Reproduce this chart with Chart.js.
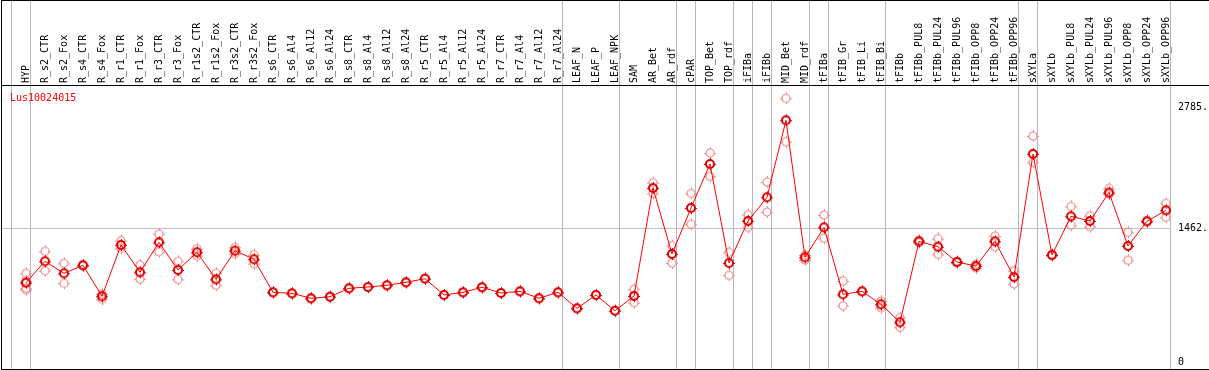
<!DOCTYPE html>
<html>
<head>
<meta charset="utf-8">
<script src="https://cdn.jsdelivr.net/npm/chart.js@4"></script>
<style>
  body { margin: 0; background: #fff; }
  #wrap { position: absolute; left: 1px; top: 0; width: 1207px; height: 368px;
          border-left: 1px solid #000; border-top: 1px solid #000; border-bottom: 1px solid #000; }
  #sep { position: absolute; left: 0; top: 84px; width: 1207px; height: 1px; background: #000; }
</style>
</head>
<body>
<div id="wrap">
  <canvas id="chart" width="1207" height="368"></canvas>
  <div id="sep"></div>
</div>
<script>
const categories = ["HYP", "R_s2_CTR", "R_s2_Fox", "R_s4_CTR", "R_s4_Fox", "R_r1_CTR", "R_r1_Fox",
  "R_r3_CTR", "R_r3_Fox", "R_r1s2_CTR", "R_r1s2_Fox", "R_r3s2_CTR", "R_r3s2_Fox",
  "R_s6_CTR", "R_s6_Al4", "R_s6_Al12", "R_s6_Al24", "R_s8_CTR", "R_s8_Al4", "R_s8_Al12", "R_s8_Al24",
  "R_r5_CTR", "R_r5_Al4", "R_r5_Al12", "R_r5_Al24", "R_r7_CTR", "R_r7_Al4", "R_r7_Al12", "R_r7_Al24",
  "LEAF_N", "LEAF_P", "LEAF_NPK", "SAM", "AR_Bet", "AR_rdf", "cPAR", "TOP_Bet", "TOP_rdf",
  "iFIBa", "iFIBb", "MID_Bet", "MID_rdf", "tFIBa", "tFIB_Gr", "tFIB_Li", "tFIB_Bi",
  "tFIBb", "tFIBb_PUL8", "tFIBb_PUL24", "tFIBb_PUL96", "tFIBb_OPP8", "tFIBb_OPP24", "tFIBb_OPP96",
  "sXYLa", "sXYLb", "sXYLb_PUL8", "sXYLb_PUL24", "sXYLb_PUL96", "sXYLb_OPP8", "sXYLb_OPP24", "sXYLb_OPP96"];

const meanValues = [866, 1100, 969, 1056, 718, 1278, 980, 1307, 1005, 1198, 903, 1216, 1122,
  761, 750, 696, 713, 805, 819, 838, 870, 910, 732, 761, 816, 754, 772, 696, 761,
  586, 732, 560, 721, 1900, 1180, 1682, 2162, 1081, 1540, 1799, 2640, 1143,
  1471, 739, 772, 630, 434, 1318, 1259, 1092, 1048, 1318, 928,
  2272, 1169, 1591, 1540, 1851, 1267, 1537, 1657];

const replicates = [[969, 885, 805, 790], [1209, 997], [1078, 860], [1062, 1050], [685, 743],
  [1325, 1242], [1059, 906], [1398, 1205], [1100, 903], [1237, 1161], [969, 838], [1253, 1183], [1172, 1074],
  [761, 761], [750, 750], [696, 696], [713, 713], [805, 805], [819, 819], [838, 838], [870, 870],
  [910, 910], [732, 732], [761, 761], [816, 816], [754, 754], [772, 772], [696, 696], [761, 761],
  [586, 586], [732, 732], [560, 560], [794, 648], [1958, 1842], [1270, 1081], [1842, 1504],
  [2283, 2028], [1198, 947], [1609, 1471], [1966, 1638], [2880, 2406], [1169, 1114],
  [1605, 1351], [885, 615], [772, 772], [593, 666], [484, 379], [1332, 1305], [1347, 1176],
  [1100, 1085], [1070, 1027], [1376, 1259], [997, 852], [2468, 2181], [1175, 1163],
  [1700, 1493], [1598, 1478], [1897, 1835], [1417, 1111], [1545, 1530], [1733, 1580]];

// index of the last category in each group (-1 = before the first)
const groupLast = [-1, 0, 28, 31, 34, 35, 37, 38, 39, 41, 42, 45, 52, 53, 60];
const yTicks = [0, 1462, 2785];
const geneName = "Lus10024015";

function makeMarker(color, width) {
  const c = document.createElement("canvas");
  c.width = 14; c.height = 14;
  const g = c.getContext("2d");
  g.strokeStyle = color;
  g.lineWidth = width;
  g.beginPath();
  g.arc(7, 7, 4, 0, Math.PI * 2);
  g.stroke();
  g.lineWidth = 1;
  g.beginPath();
  g.moveTo(7.5, 1); g.lineTo(7.5, 3);
  g.moveTo(7.5, 11); g.lineTo(7.5, 13);
  g.moveTo(1, 7.5); g.lineTo(3, 7.5);
  g.moveTo(11, 7.5); g.lineTo(13, 7.5);
  g.stroke();
  return c;
}

const meanPoints = meanValues.map((v, i) => ({ x: i, y: v }));
const repPoints = [];
replicates.forEach((reps, i) => reps.forEach(v => repPoints.push({ x: i, y: v })));

Chart.defaults.font.family = "DejaVu Sans Mono";
Chart.defaults.font.size = 10;
Chart.defaults.color = "#000";

const xMin = -24 / 19;
const xMax = xMin + 1169 / 19;

function noPad(s) {
  s.paddingLeft = 0; s.paddingRight = 0; s.paddingTop = 0; s.paddingBottom = 0;
}

const namePlugin = {
  id: "geneName",
  afterDraw(chart) {
    const ctx = chart.ctx;
    ctx.save();
    ctx.font = "10px 'DejaVu Sans Mono'";
    ctx.fillStyle = "#ff0000";
    ctx.textBaseline = "alphabetic";
    ctx.fillText(geneName, chart.chartArea.left + 8, chart.chartArea.top + 16);
    ctx.restore();
  }
};

new Chart(document.getElementById("chart"), {
  type: "line",
  data: {
    datasets: [
      {
        data: meanPoints,
        borderColor: "#ff0000",
        borderWidth: 1,
        tension: 0,
        pointStyle: makeMarker("#e00000", 2),
        order: 1
      },
      {
        type: "scatter",
        data: repPoints,
        showLine: false,
        pointStyle: makeMarker("#f08c8c", 1.2),
        order: 2
      }
    ]
  },
  options: {
    responsive: false,
    animation: false,
    layout: { padding: 0, autoPadding: false },
    plugins: { legend: { display: false }, tooltip: { enabled: false } },
    scales: {
      x: {
        type: "linear",
        position: "top",
        weight: 10,
        min: xMin,
        max: xMax,
        afterBuildTicks: (s) => { s.ticks = categories.map((c, i) => ({ value: i })); },
        afterFit: (s) => { s.height = 84; noPad(s); },
        ticks: {
          autoSkip: false,
          minRotation: 90,
          maxRotation: 90,
          padding: 2,
          labelOffset: 12,
          callback: (v) => categories[v]
        },
        grid: { display: false, drawTicks: false, tickLength: 0 },
        border: { display: false }
      },
      xg: {
        type: "linear",
        position: "top",
        weight: 0,
        min: xMin,
        max: xMax,
        afterBuildTicks: (s) => { s.ticks = groupLast.map(i => ({ value: i + 0.24 })); },
        afterFit: (s) => { s.height = 0; noPad(s); },
        ticks: { display: false },
        grid: { color: () => "#b8b8b8", lineWidth: 1, drawTicks: true, tickLength: 84 },
        border: { display: false }
      },
      y: {
        position: "right",
        min: -76.45,
        max: 3025.3,
        afterBuildTicks: (s) => { s.ticks = yTicks.map(v => ({ value: v })); },
        afterFit: (s) => { s.width = 38; noPad(s); },
        ticks: {
          padding: 7,
          callback: (v) => v === 0 ? "0" : v + "."
        },
        grid: {
          drawTicks: false,
          color: (c) => c.tick && c.tick.value === 1462 ? "#c0c0c0" : "rgba(0,0,0,0)"
        },
        border: { display: false }
      }
    }
  },
  plugins: [namePlugin]
});
</script>
</body>
</html>
